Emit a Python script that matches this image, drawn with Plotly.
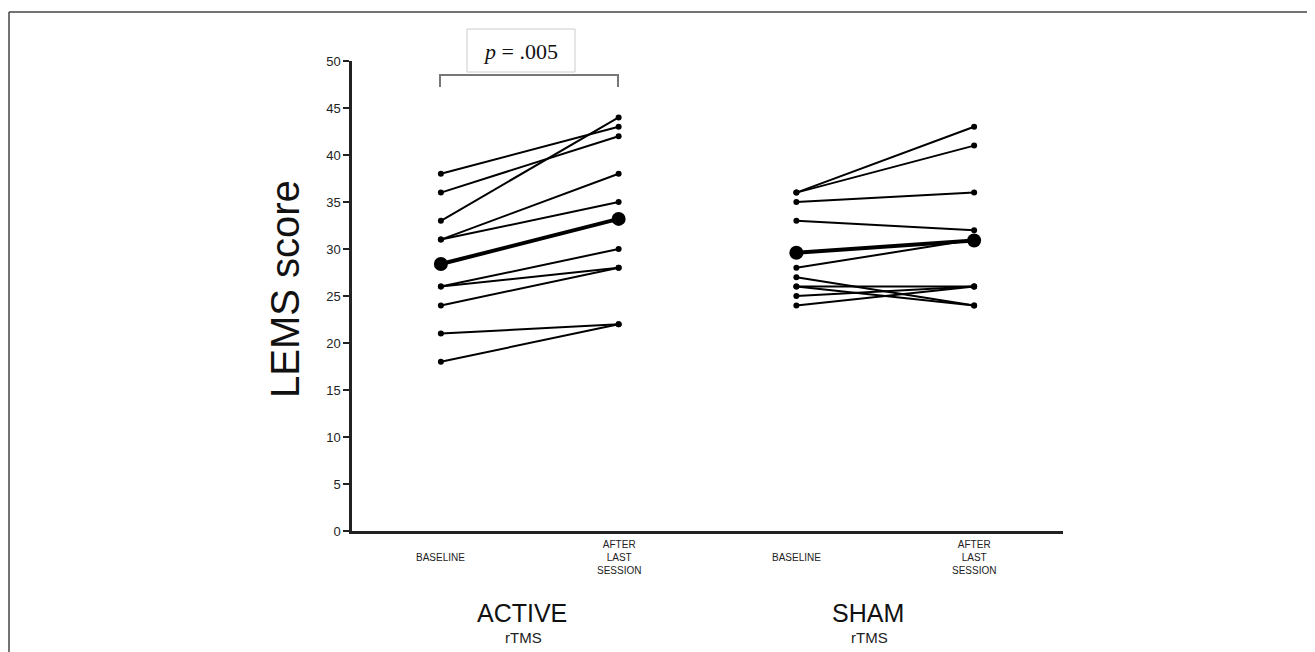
import plotly.graph_objects as go
import numpy as np

# ---- data ----
conditions = ["BASELINE", "AFTER<br>LAST<br>SESSION", "BASELINE", "AFTER<br>LAST<br>SESSION"]
cond_x = [1, 2, 3, 4]
active_base = [38, 36, 33, 31, 31, 26, 26, 24, 21, 18]
active_after = [43, 42, 44, 38, 35, 30, 28, 28, 22, 22]
sham_base = [36, 36, 35, 33, 28, 27, 26, 26, 25, 24]
sham_after = [43, 41, 36, 32, 31, 24, 24, 26, 26, 26]
groups = ["ACTIVE", "SHAM"]
group_sub = ["rTMS", "rTMS"]
y_ticks = [0, 5, 10, 15, 20, 25, 30, 35, 40, 45, 50]
p_text = "<i>p</i> = .005"

W, H = 1315, 652
OFF = 8  # page body margin
# plot area in screen pixels: x 352..1063, y 61..531
L = 352 - OFF
T = 61 - OFF
R = W - (1063 - OFF)
B = H - (531 - OFF)

fig = go.Figure()

def add_pairs(xb, xa, base, after):
    xs, ys = [], []
    for b, a in zip(base, after):
        xs += [xb, xa, None]
        ys += [b, a, None]
    fig.add_trace(go.Scatter(x=xs, y=ys, mode="lines+markers",
                             line=dict(color="black", width=2),
                             marker=dict(color="black", size=6),
                             showlegend=False, hoverinfo="skip"))
    fig.add_trace(go.Scatter(x=[xb, xa], y=[np.mean(base), np.mean(after)],
                             mode="lines+markers",
                             line=dict(color="black", width=4),
                             marker=dict(color="black", size=14),
                             showlegend=False, hoverinfo="skip"))

add_pairs(cond_x[0], cond_x[1], active_base, active_after)
add_pairs(cond_x[2], cond_x[3], sham_base, sham_after)

fig.update_layout(
    width=W, height=H,
    margin=dict(l=L, r=R, t=T, b=B),
    paper_bgcolor="white", plot_bgcolor="white",
    font=dict(family="Liberation Sans, Arial", color="#222"),
    xaxis=dict(range=[0.5, 4.5], showgrid=False, zeroline=False,
               showline=True, linecolor="#222", linewidth=2.5,
               showticklabels=False, ticks=""),
    yaxis=dict(range=[0, 50], tickvals=y_ticks, showgrid=False, zeroline=False,
               showline=True, linecolor="#222", linewidth=2.5,
               ticks="outside", ticklen=6, tickwidth=2, tickcolor="#222",
               tickfont=dict(size=13, color="#222", family="Liberation Sans, Arial")),
)

pw = W - L - R
ph = H - T - B
def px(xpix):
    return (xpix - OFF - L) / pw
def py(ypix):
    return (H - B - (ypix - OFF)) / ph

# y-axis title
fig.add_annotation(x=px(285), xref="paper", y=py(289), yref="paper", text="LEMS score",
                   textangle=-90, showarrow=False, xanchor="center", yanchor="middle",
                   font=dict(size=40, color="#111"))

# category labels
for xv, lab in zip(cond_x, conditions):
    fig.add_annotation(x=xv, xref="x", y=py(557), yref="paper", text=lab,
                       showarrow=False, xanchor="center", yanchor="middle",
                       font=dict(size=10, color="#222"))

# group labels
for xpix, g, s in zip([522, 868], groups, group_sub):
    fig.add_annotation(x=px(xpix), xref="paper", y=py(613), yref="paper", text=g,
                       showarrow=False, xanchor="center", yanchor="middle",
                       font=dict(size=25, color="#111"))
    fig.add_annotation(x=px(xpix + 1), xref="paper", y=py(637), yref="paper", text=s,
                       showarrow=False, xanchor="center", yanchor="middle",
                       font=dict(size=15, color="#222"))

# significance bracket
x0b, x1b = px(440), px(618)
fig.add_shape(type="path", xref="paper", yref="paper",
              path=f"M {x0b},{py(87)} L {x0b},{py(75)} L {x1b},{py(75)} L {x1b},{py(87)}",
              line=dict(color="#777", width=2))
fig.add_shape(type="rect", xref="paper", yref="paper",
              x0=px(467), x1=px(575), y0=py(72), y1=py(29),
              line=dict(color="#ccc", width=1), fillcolor="white")
fig.add_annotation(x=px(520), xref="paper", y=py(51), yref="paper", text=p_text,
                   showarrow=False, xanchor="center", yanchor="middle",
                   font=dict(size=22, family="Liberation Serif, Times New Roman", color="#111"))

# outer frame (top and left edges)
fig.add_shape(type="line", xref="paper", yref="paper",
              x0=px(9), x1=px(1330), y0=py(12), y1=py(12),
              line=dict(color="#444", width=1.5))
fig.add_shape(type="line", xref="paper", yref="paper",
              x0=px(9), x1=px(9), y0=py(12), y1=py(670),
              line=dict(color="#444", width=1.5))

fig.write_html("out.html")
